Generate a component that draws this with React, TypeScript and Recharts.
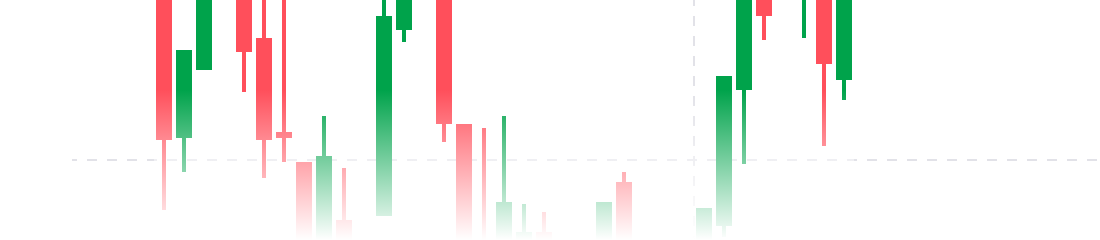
import { Bar, BarChart, ReferenceArea, ReferenceLine, XAxis, YAxis } from "recharts"

// one slot per candle, left to right
const slots = [
  "1", "2", "3", "4", "5", "6", "7", "8", "9", "10",
  "11", "12", "13", "14", "15", "16", "17", "18", "19", "20",
  "21", "22", "23", "24", "25", "26", "27", "28", "29", "30",
  "31", "32", "33", "34", "35",
]

// chart is zoomed in: values above 240 or below 0 sit outside the visible window
const opens = [
  262, 102, 170, 268, 262, 202, 108, 78, -12, 20,
  -15, 24, 210, 270, 262, 116, -5, -20, -15, 8,
  -15, -28, -10, 58, -10, -30, -12, -22, 14, 150,
  270, 255, 250, 285, 160,
]
const highs = [
  270, 190, 275, 285, 266, 255, 246, 78, 124, 72,
  -2, 248, 275, 290, 266, 116, 112, 124, 36, 28,
  -3, -8, 38, 68, -2, -5, -4, 32, 164, 282,
  285, 296, 296, 292, 280,
]
const lows = [
  30, 68, 170, 250, 148, 62, 78, -20, -20, -25,
  -30, 24, 198, 255, 98, -18, -25, -25, -20, -22,
  -35, -40, -20, -20, -40, -38, -30, -28, 3, 76,
  200, 250, 202, 94, 140,
]
const closes = [
  100, 190, 268, 262, 188, 100, 102, -10, 84, -15,
  -5, 224, 270, 260, 116, -10, -20, 38, 8, -15,
  -28, -12, 38, -10, -30, -12, -22, 32, 164, 275,
  224, 290, 290, 176, 270,
]

const lastPrice = 80
const sessionStart = "28"

const GREEN = "#00a34b"
const RED = "#ff4f5b"

const data = slots.map((slot, i) => ({
  slot,
  open: opens[i],
  high: highs[i],
  low: lows[i],
  close: closes[i],
}))

function Candle(props: any) {
  const { x, y, width, height, payload } = props
  const { open, close, high, low } = payload
  const color = close >= open ? GREEN : RED
  const ratio = height / (high - low)
  const bodyTop = y + (high - Math.max(open, close)) * ratio
  const bodyHeight = Math.max(Math.abs(open - close) * ratio, 1)
  const cx = x + width / 2
  return (
    <g>
      <rect x={cx - 2} y={y} width={4} height={height} fill={color} />
      <rect x={x} y={bodyTop} width={width} height={bodyHeight} fill={color} />
    </g>
  )
}

export default function App() {
  return (
    <div style={{ position: "absolute", top: 0, left: 0, width: 1100, height: 240 }}>
      <BarChart
        width={1100}
        height={240}
        data={data}
        margin={{ top: 0, right: 0, bottom: 0, left: 72 }}
      >
        <defs>
          <linearGradient id="fadeOut" x1="0" y1="0" x2="0" y2="1">
            <stop offset="0%" stopColor="#ffffff" stopOpacity={0} />
            <stop offset="100%" stopColor="#ffffff" stopOpacity={1} />
          </linearGradient>
        </defs>
        <XAxis dataKey="slot" hide padding={{ left: 82, right: 246 }} />
        <YAxis hide domain={[0, 240]} allowDataOverflow />
        <ReferenceLine
          y={lastPrice}
          stroke="#e2e2e8"
          strokeWidth={2}
          strokeDasharray="10 10"
          strokeDashoffset={5}
          zIndex={-100}
        />
        <ReferenceLine
          x={sessionStart}
          position="start"
          stroke="#e2e2e8"
          strokeWidth={2}
          strokeDasharray="10 10"
          strokeDashoffset={6}
          zIndex={-100}
        />
        <Bar
          dataKey={(d: any) => [d.low, d.high]}
          barSize={16}
          shape={<Candle />}
          isAnimationActive={false}
        />
        <ReferenceArea
          y1={150}
          y2={0}
          fill="url(#fadeOut)"
          fillOpacity={1}
          stroke="none"
          isFront
          zIndex={2000}
        />
      </BarChart>
    </div>
  )
}
